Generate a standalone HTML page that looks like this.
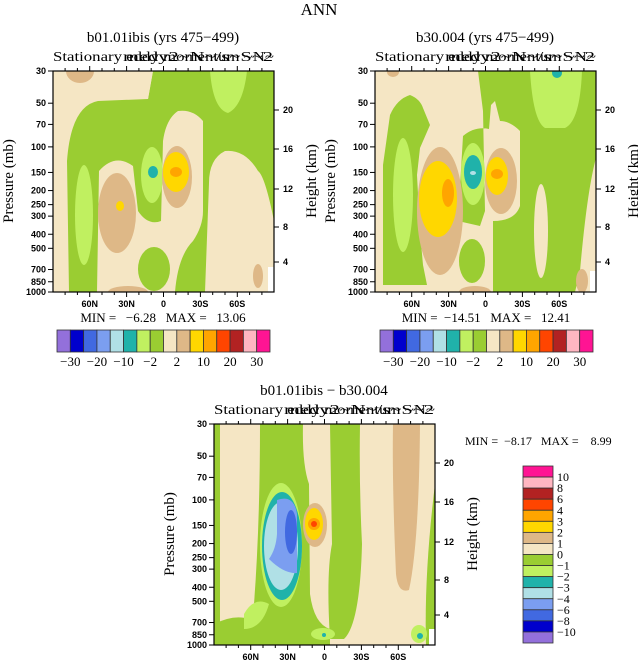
<!DOCTYPE html>
<html><head><meta charset="utf-8"><style>
html,body{margin:0;padding:0;background:#fff;}
svg{display:block;}
.s{font-family:"Liberation Serif",serif;}
.t{font-family:"Liberation Sans",sans-serif;font-size:9px;}
.pre{white-space:pre;}
</style></head><body>
<svg id="g" width="638" height="664" viewBox="0 0 638 664" xmlns="http://www.w3.org/2000/svg">
<text class="s" x="319" y="15" font-size="17" text-anchor="middle">ANN</text>

<defs>
<clipPath id="cp"><rect x="0" y="0" width="221" height="221"/></clipPath>
</defs>

<!-- Panel 1 -->
<g transform="translate(53,71)">
<g clip-path="url(#cp)">
<rect width="221" height="221" fill="#F5E6C4"/>
<ellipse cx="27" cy="0" rx="14" ry="12" fill="#DEB887"/>
<path d="M16,221 L14,90 Q18,35 45,30 L95,28 L100,0 L221,0 L221,150 Q212,105 205,100 Q192,78 172,80 Q156,88 156,112 L152,221 L122,221 Q125,185 140,170 Q150,155 150,140 L150,50 Q140,38 125,40 Q113,48 110,70 L108,150 Q95,155 85,140 L80,95 Q62,82 46,100 L44,221 Z" fill="#9ACD32"/>
<path d="M80,0 L100,0 L95,28 L80,28 Z" fill="#F5E6C4"/>
<ellipse cx="31" cy="144" rx="9" ry="50" fill="#C0F060"/>
<ellipse cx="64" cy="142" rx="19" ry="40" fill="#DEB887"/>
<ellipse cx="67" cy="135" rx="4" ry="5" fill="#FFD700"/>
<ellipse cx="99" cy="104" rx="11" ry="28" fill="#C0F060"/>
<ellipse cx="100" cy="101" rx="5" ry="6" fill="#20B2AA"/>
<ellipse cx="124" cy="106" rx="15" ry="31" fill="#DEB887"/>
<ellipse cx="123" cy="101" rx="13" ry="20" fill="#FFD700"/>
<ellipse cx="123" cy="101" rx="6" ry="5" fill="#FFA500"/>
<ellipse cx="101" cy="198" rx="16" ry="22" fill="#9ACD32"/>
<path d="M157,0 L194,0 Q190,35 175,42 Q160,38 157,0 Z" fill="#C0F060"/>
<ellipse cx="205" cy="205" rx="5" ry="12" fill="#DEB887"/>
<rect x="215" y="196" width="6" height="25" fill="#fff"/>
<ellipse cx="75" cy="221" rx="20" ry="6" fill="#DEB887"/>
</g></g>

<!-- Panel 2 -->
<g transform="translate(375,71)">
<g clip-path="url(#cp)">
<rect width="221" height="221" fill="#F5E6C4"/>
<ellipse cx="18" cy="1" rx="6" ry="5" fill="#DEB887"/>
<path d="M8,214 L8,94 L15,44 Q22,28 35,24 Q45,28 48,37 L55,54 L45,77 L42,104 L45,161 L48,194 L52,214 Z" fill="#9ACD32"/>
<ellipse cx="28" cy="124" rx="10" ry="57" fill="#C0F060"/>
<path d="M103,0 L221,0 L221,87 Q212,120 205,200 L200,221 L118,221 L118,150 Q140,150 145,135 L145,60 Q135,50 125,50 L120,30 L116,34 L114,58 Q100,55 88,65 L83,150 L105,155 L110,140 L108,40 Z" fill="#9ACD32"/>
<ellipse cx="166" cy="160" rx="7" ry="47" fill="#F5E6C4"/>
<path d="M155,0 L207,0 Q205,50 190,57 L170,57 Q158,50 155,0 Z" fill="#C0F060"/>
<circle cx="182" cy="2" r="5" fill="#20B2AA"/>
<ellipse cx="65" cy="140" rx="23" ry="64" fill="#DEB887"/>
<ellipse cx="63" cy="128" rx="19" ry="38" fill="#FFD700"/>
<ellipse cx="73" cy="122" rx="6" ry="14" fill="#FFA500"/>
<ellipse cx="98" cy="103" rx="12" ry="31" fill="#C0F060"/>
<ellipse cx="98" cy="101" rx="9" ry="17" fill="#20B2AA"/>
<ellipse cx="98" cy="102" rx="3" ry="2" fill="#B0E0E6"/>
<ellipse cx="126" cy="110" rx="16" ry="33" fill="#DEB887"/>
<ellipse cx="122" cy="105" rx="11" ry="19" fill="#FFD700"/>
<ellipse cx="122" cy="103" rx="6" ry="5" fill="#FFA500"/>
<ellipse cx="97" cy="190" rx="13" ry="22" fill="#9ACD32"/>
<ellipse cx="100" cy="221" rx="16" ry="6" fill="#DEB887"/>
<ellipse cx="207" cy="210" rx="6" ry="12" fill="#DEB887"/>
<rect x="215" y="200" width="6" height="21" fill="#fff"/>
</g></g>

<!-- Panel 3 -->
<g transform="translate(214,424)">
<g clip-path="url(#cp)">
<rect width="221" height="221" fill="#F5E6C4"/>
<rect x="0" y="0" width="6" height="221" fill="#9ACD32"/>
<path d="M46,0 L89,0 Q88,40 95,60 L96,170 Q100,200 116,205 L116,221 L0,221 L0,200 Q20,190 35,195 L40,180 Q46,100 46,0 Z" fill="#9ACD32"/>
<path d="M116,0 L146,0 Q145,60 148,120 Q146,200 130,215 L116,215 Q112,150 118,120 Z" fill="#9ACD32"/>
<path d="M179,0 L206,0 Q205,120 195,166 Q184,170 182,150 Q178,60 179,0 Z" fill="#DEB887"/>
<path d="M221,60 L221,221 L212,221 Q210,150 221,60 Z" fill="#9ACD32"/>
<path d="M30,190 Q40,172 55,180 Q48,205 30,205 Z" fill="#C0F060"/>
<ellipse cx="67" cy="121" rx="21" ry="62" fill="#C0F060"/>
<ellipse cx="68" cy="122" rx="20" ry="54" fill="#20B2AA"/>
<ellipse cx="67" cy="122" rx="17" ry="44" fill="#B0E0E6"/>
<path d="M63,76 Q80,70 83,90 L83,149 Q70,150 55,135 Q62,125 63,110 Z" fill="#7B9EF0"/>
<ellipse cx="77" cy="108" rx="6" ry="22" fill="#4169E1"/>
<ellipse cx="101" cy="101" rx="12" ry="22" fill="#DEB887"/>
<ellipse cx="100" cy="100" rx="9" ry="16" fill="#FFD700"/>
<ellipse cx="100" cy="100" rx="6" ry="6" fill="#FFA500"/>
<circle cx="100" cy="100" r="3" fill="#FF4500"/>
<ellipse cx="109" cy="210" rx="12" ry="6" fill="#C0F060"/>
<circle cx="110" cy="211" r="2" fill="#20B2AA"/>
<ellipse cx="205" cy="210" rx="8" ry="9" fill="#C0F060"/>
<circle cx="206" cy="212" r="3" fill="#20B2AA"/>
<rect x="215" y="205" width="6" height="16" fill="#fff"/>
</g></g>
<g id="ax"></g>
</svg>
<script>
var NS="http://www.w3.org/2000/svg",ax=document.getElementById("ax");
function el(n,a,t){var e=document.createElementNS(NS,n);for(var k in a)e.setAttribute(k,a[k]);if(t!=null)e.textContent=t;ax.appendChild(e);return e;}
var P=[30,50,70,100,150,200,250,300,400,500,700,850,1000];
var cols=["#9370DB","#0000CD","#4169E1","#7B9EF0","#B0E0E6","#20B2AA","#C0F060","#9ACD32","#F5E6C4","#DEB887","#FFD700","#FFA500","#FF4500","#B22222","#FFB6C1","#FF1493"];
function yp(p){return 221*Math.log(p/30)/Math.log(1000/30);}
function panel(ox,oy,title){
 el("rect",{x:ox,y:oy,width:221,height:221,fill:"none",stroke:"#000","stroke-width":1.2});
 P.forEach(function(p){var y=oy+yp(p);el("line",{x1:ox-5,y1:y,x2:ox,y2:y,stroke:"#000"});el("text",{x:ox-7,y:y+3,"text-anchor":"end","class":"t","font-weight":"bold"},p);});
 var hs=[[20,39],[16,78],[12,118],[8,156],[4,191]];
 hs.forEach(function(h){var y=oy+h[1];el("line",{x1:ox+221,y1:y,x2:ox+226,y2:y,stroke:"#000"});el("text",{x:ox+230,y:y+3,"class":"t","font-weight":"bold"},h[0]);});
 for(var d=-80;d<=80;d+=10){var x=ox+110.5+d*1.23,big=(d%30==0),l=big?5:3;
  el("line",{x1:x,y1:oy,x2:x,y2:oy-l,stroke:"#000"});el("line",{x1:x,y1:oy+221,x2:x,y2:oy+221+l,stroke:"#000"});
  if(big){var s=d==0?"0":(Math.abs(d)+(d<0?"N":"S"));el("text",{x:x,y:oy+236,"text-anchor":"middle","class":"t","font-weight":"bold"},s);}}
 el("text",{x:ox+110,y:oy-29,"text-anchor":"middle","class":"s","font-size":15},title);
 el("text",{x:ox,y:oy-10,"class":"s","font-size":14,textLength:221,lengthAdjust:"spacingAndGlyphs"},"Stationary eddy momentum ~N~");
 el("text",{x:ox+70,y:oy-10,"class":"s","font-size":14,textLength:150,lengthAdjust:"spacingAndGlyphs"},"medy2~N~/s~S~2");
 el("text",{x:0,y:0,"class":"s","font-size":15,"text-anchor":"middle",transform:"translate("+(ox-40)+","+(oy+110)+") rotate(-90)"},"Pressure (mb)");
 el("text",{x:0,y:0,"class":"s","font-size":15,"text-anchor":"middle",transform:"translate("+(ox+263)+","+(oy+110)+") rotate(-90)"},"Height (km)");
}
panel(53,71,"b01.01ibis (yrs 475\u2212499)");
panel(375,71,"b30.004 (yrs 475\u2212499)");
panel(214,424,"b01.01ibis \u2212 b30.004");
function hbar(ox,mm){
 el("text",{x:ox+106,y:322,"text-anchor":"middle","class":"s pre","font-size":13,style:"white-space:pre"},mm);
 var w=213/16;for(var i=0;i<16;i++)el("rect",{x:ox+i*w,y:330,width:w,height:22,fill:cols[i],stroke:"#333","stroke-width":0.8});
 var L=["\u221230","\u221220","\u221210","\u22122","2","10","20","30"];
 L.forEach(function(t,i){el("text",{x:ox+w*(1+2*i),y:366,"text-anchor":"middle","class":"s","font-size":13},t);});
}
hbar(57,"MIN =   \u22126.28   MAX =   13.06");
hbar(380,"MIN =  \u221214.51   MAX =   12.41");
el("text",{x:465,y:445,"class":"s pre","font-size":12,style:"white-space:pre"},"MIN =  \u22128.17   MAX =    8.99");
var h=177/16;for(var i=0;i<16;i++)el("rect",{x:523,y:466+i*h,width:30,height:h,fill:cols[15-i],stroke:"#333","stroke-width":0.8});
["10","8","6","4","3","2","1","0","\u22121","\u22122","\u22123","\u22124","\u22126","\u22128","\u221210"].forEach(function(t,i){el("text",{x:557,y:466+h*(i+1)+4,"class":"s","font-size":12},t);});
</script>
</body></html>
